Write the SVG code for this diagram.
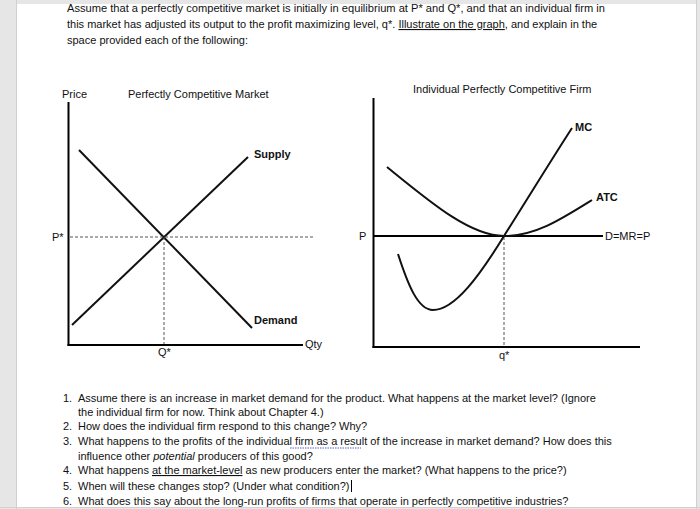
<svg xmlns="http://www.w3.org/2000/svg" width="700" height="509" viewBox="0 0 700 509">
<style>
text{font-family:"Liberation Sans",Arial,sans-serif;fill:#111;font-size:11px}
.b{font-weight:bold}
.u{text-decoration:underline}
.ax{stroke:#000;stroke-width:2;fill:none}
.cv{stroke:#111;stroke-width:2;fill:none}
.ds{stroke:#555;stroke-width:1;stroke-dasharray:3,2;fill:none}
</style>
<rect x="0" y="0" width="700" height="509" fill="#e6e6e6"/>
<rect x="17" y="4" width="679" height="503" fill="#ffffff"/>
<line x1="16.5" y1="0" x2="16.5" y2="509" stroke="#d0d0d0"/>
<line x1="696.5" y1="0" x2="696.5" y2="509" stroke="#d0d0d0"/>
<line x1="0" y1="507.5" x2="700" y2="507.5" stroke="#d0d0d0"/>

<g id="intro">
<text x="67" y="12" textLength="538" lengthAdjust="spacingAndGlyphs">Assume that a perfectly competitive market is initially in equilibrium at P* and Q*, and that an individual firm in</text>
<text x="67" y="28">this market has adjusted its output to the profit maximizing level, q*.  <tspan class="u">Illustrate on the graph</tspan>, and explain in the</text>
<text x="67" y="44">space provided each of the following:</text>
</g>

<g id="market-graph">
<text x="62" y="98">Price</text>
<text x="128" y="98">Perfectly Competitive Market</text>
<line class="ax" x1="68.5" y1="102" x2="68.5" y2="346"/>
<line class="ax" x1="67.5" y1="345" x2="303" y2="345"/>
<text x="305" y="348">Qty</text>
<line class="cv" x1="79" y1="150" x2="252" y2="328"/>
<line class="cv" x1="72" y1="325" x2="248" y2="157"/>
<line class="ds" x1="70" y1="237" x2="313" y2="237"/>
<line class="ds" x1="164" y1="237" x2="164" y2="344"/>
<text x="52" y="241" font-size="9">P*</text>
<text x="158" y="356" font-size="9">Q*</text>
<text class="b" x="254" y="158">Supply</text>
<text class="b" x="254" y="324">Demand</text>
</g>

<g id="firm-graph">
<text x="413" y="93">Individual Perfectly Competitive Firm</text>
<line class="ax" x1="373.5" y1="98" x2="373.5" y2="348"/>
<line class="ax" x1="372.5" y1="347" x2="640" y2="347"/>
<line class="ax" x1="373" y1="236" x2="603" y2="236"/>
<text x="605" y="240">D=MR=P</text>
<text x="359" y="240" font-size="9">P</text>
<line class="ds" x1="504" y1="237" x2="504" y2="346"/>
<text x="499" y="359" font-size="9">q*</text>
<path class="cv" d="M387,167 C430,202 470,236 504,236 C535,236 560,220 592,200"/>
<path class="cv" d="M398,254 C408,285 418,310 433,310 C455,310 480,275 504,236 C528,198 550,162 572,128"/>
<text class="b" x="575" y="131">MC</text>
<text class="b" x="596" y="201">ATC</text>
</g>

<g id="questions">
<text x="63" y="402">1.</text><text x="78" y="402">Assume there is an increase in market demand for the product. What happens at the market level? (Ignore</text>
<text x="78" y="416">the individual firm for now. Think about Chapter 4.)</text>
<text x="63" y="430">2.</text><text x="78" y="430">How does the individual firm respond to this change? Why?</text>
<text x="63" y="445">3.</text><text x="78" y="445">What happens to the profits of the individual firm as a result of the increase in market demand? How does this</text>
<line x1="290" y1="448" x2="361" y2="448" stroke="#5060d0" stroke-width="1" stroke-dasharray="1.5,1"/>
<text x="78" y="460">influence other <tspan font-style="italic">potential</tspan> producers of this good?</text>
<text x="63" y="474">4.</text><text x="78" y="474">What happens <tspan class="u">at the market-level</tspan> as new producers enter the market? (What happens to the price?)</text>
<text x="63" y="490">5.</text><text x="78" y="490">When will these changes stop? (Under what condition?)</text>
<line x1="351.5" y1="480" x2="351.5" y2="492" stroke="#000" stroke-width="1"/>
<text x="63" y="505">6.</text><text x="78" y="505">What does this say about the long-run profits of firms that operate in perfectly competitive industries?</text>
</g>
</svg>
